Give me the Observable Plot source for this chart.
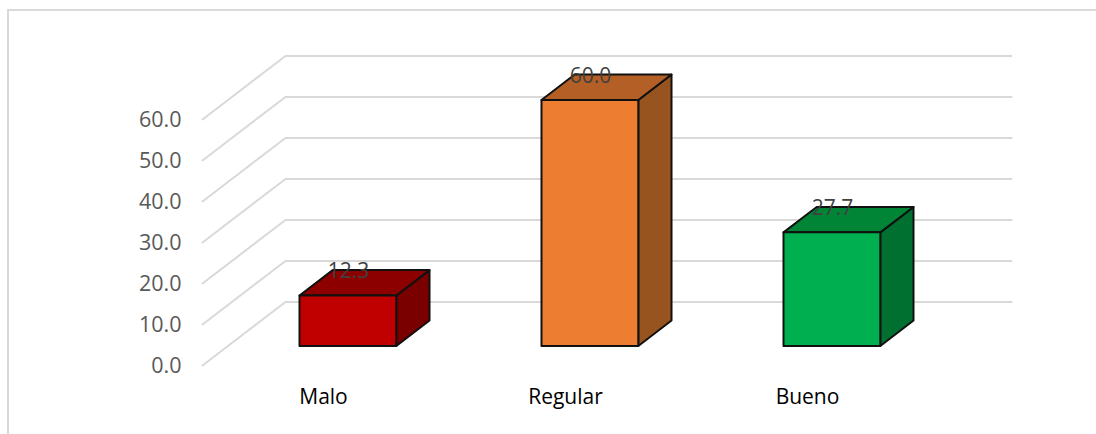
<!DOCTYPE html>
<html><head><meta charset="utf-8">
<script src="https://cdn.jsdelivr.net/npm/d3@7"></script>
<script src="https://cdn.jsdelivr.net/npm/@observablehq/plot@0.6"></script>
<style>
html,body{margin:0;padding:0;background:#fff;overflow:hidden}
#frame{position:absolute;left:7px;top:9px;right:0;bottom:0;border-left:2px solid #d9d9d9;border-top:2px solid #d9d9d9}
#chart{position:absolute;left:0;top:0}
</style></head><body>
<div id="frame"></div><div id="chart"></div>
<script>
const categories = ["Malo", "Regular", "Bueno"];
const values = [12.3, 60.0, 27.7];
const valueLabels = ["12.3", "60.0", "27.7"];
const frontColors = ["#C00000", "#ED7D31", "#00B050"];
const topColors = ["#8C0000", "#B35F25", "#008537"];
const sideColors = ["#7A0000", "#97541F", "#007030"];
const yTicks = [0, 10, 20, 30, 40, 50, 60];

// Oblique projection of the 3D chart box onto the library's x and y scales.
const depthX = 0.343, depthY = 15.5;
const px = (i, u, d) => i + u + d * depthX;
const py = (v, d) => v + d * depthY;
const d0 = 0.3, d1 = 0.7, u0 = 0.3, u1 = 0.7;

const grid = yTicks.flatMap(t => [
  {t, x: 0, y: py(t, 0)},
  {t, x: px(0, 0, 1), y: py(t, 1)},
  {t, x: px(3, 0, 1), y: py(t, 1)}
]);
const P = (key, color, i, pts) => pts.map(([x, y1, y2]) => ({key: key + i, color, x, y1, y2}));
const faces = categories.flatMap((c, i) => {
  const v = values[i];
  return [
    ...P("side", sideColors[i], i, [
      [px(i, u1, d0), py(0, d0), py(v, d0)],
      [px(i, u1, d1), py(0, d1), py(v, d1)]
    ]),
    ...P("top", topColors[i], i, [
      [px(i, u0, d0), py(v, d0), py(v, d0)],
      [px(i, u0, d1), py(v, d0), py(v, d1)],
      [px(i, u1, d0), py(v, d0), py(v, d1)],
      [px(i, u1, d1), py(v, d1), py(v, d1)]
    ]),
    ...P("front", frontColors[i], i, [
      [px(i, u0, d0), py(0, d0), py(v, d0)],
      [px(i, u1, d0), py(0, d0), py(v, d0)]
    ])
  ];
});
const labels = categories.map((c, i) => ({
  x: px(i, 0.5, d0), y: py(values[i], d1), text: valueLabels[i]
}));

const plot = Plot.plot({
  width: 1096, height: 434,
  marginLeft: 202, marginRight: 168, marginTop: 119, marginBottom: 69,
  style: {background: "transparent", fontFamily: "'Open Sans'", fontSize: "21px"},
  x: {domain: [0, 3], label: null},
  y: {domain: [0, 60], label: null},
  color: {type: "identity"},
  marks: [
    Plot.line(grid, {x: "x", y: "y", z: "t", stroke: "#d9d9d9", strokeWidth: 2, curve: "linear"}),
    Plot.axisY({ticks: yTicks, tickSize: 0, tickPadding: 21, tickFormat: d => d.toFixed(1), color: "#595959", fontSize: 21.5, dy: 1, label: null}),
    Plot.axisX({ticks: [0.5, 1.5, 2.5], tickSize: 0, tickPadding: 24, tickFormat: d => categories[Math.floor(d)], color: "#000", fontSize: 21, label: null}),
    Plot.areaY(faces, {x: "x", y1: "y1", y2: "y2", z: "key", fill: "color", stroke: "#111", strokeWidth: 2, strokeLinejoin: "round", curve: "linear"}),
    Plot.text(labels, {x: "x", y: "y", text: "text", fill: "#404040", fontSize: 21, dy: 1, textAnchor: "middle"})
  ]
});
document.getElementById("chart").appendChild(plot);
</script></body></html>
